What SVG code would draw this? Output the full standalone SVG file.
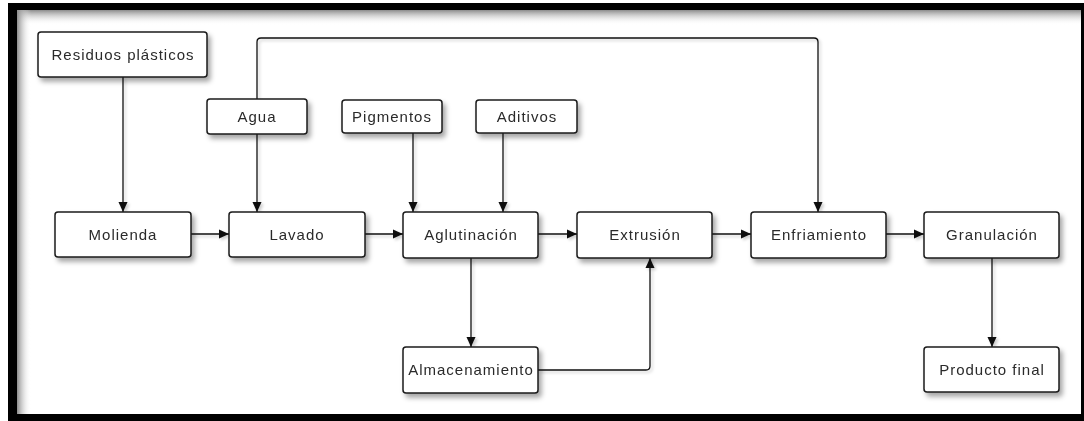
<svg xmlns="http://www.w3.org/2000/svg" width="1084" height="421" viewBox="0 0 1084 421">
  <defs>
    <style>
      .box { fill: #ffffff; stroke: #1a1a1a; stroke-width: 1.5; }
      .lbl { font-family: "Liberation Sans", Arial, sans-serif; font-size: 15px; letter-spacing: 1px; fill: #2a2a2a; text-anchor: middle; }
      .wire { fill: none; stroke: #111111; stroke-width: 1.3; }
    </style>
    <filter id="shadow" x="-20%" y="-30%" width="140%" height="170%">
      <feDropShadow dx="3" dy="4" stdDeviation="2.5" flood-color="#000000" flood-opacity="0.35"/>
    </filter>
    <filter id="wireShadow" x="-5%" y="-5%" width="110%" height="110%">
      <feDropShadow dx="2" dy="2" stdDeviation="1.5" flood-color="#000000" flood-opacity="0.2"/>
    </filter>
    <marker id="arrow" viewBox="0 0 10 10" refX="10" refY="5" markerWidth="10" markerHeight="10" markerUnits="userSpaceOnUse" orient="auto">
      <path d="M0,0.5 L10,5 L0,9.5 Z" fill="#111111"/>
    </marker>
    <linearGradient id="topShade" x1="0" y1="0" x2="0" y2="1">
      <stop offset="0" stop-color="#8c8c8c"/>
      <stop offset="1" stop-color="#ffffff" stop-opacity="0"/>
    </linearGradient>
    <linearGradient id="leftShade" x1="0" y1="0" x2="1" y2="0">
      <stop offset="0" stop-color="#8c8c8c"/>
      <stop offset="1" stop-color="#ffffff" stop-opacity="0"/>
    </linearGradient>
  </defs>

  <!-- page background and heavy black frame -->
  <rect x="0" y="0" width="1084" height="421" fill="#ffffff"/>
  <path d="M8,3 H1084 V421 H8 Z M17,10 V414 H1081 V10 Z" fill="#000000" fill-rule="evenodd"/>
  <rect x="17" y="10" width="1064" height="15" fill="url(#topShade)"/>
  <rect x="17" y="10" width="14" height="404" fill="url(#leftShade)"/>

  <!-- connectors -->
  <g id="connectors" filter="url(#wireShadow)">
    <path class="wire" d="M123,77 V212" marker-end="url(#arrow)"/>
    <path class="wire" d="M257,134 V212" marker-end="url(#arrow)"/>
    <path class="wire" d="M257,99 V42 Q257,38 261,38 H814 Q818,38 818,42 V212" marker-end="url(#arrow)"/>
    <path class="wire" d="M413,133 V212" marker-end="url(#arrow)"/>
    <path class="wire" d="M503,133 V212" marker-end="url(#arrow)"/>
    <path class="wire" d="M191,234 H229" marker-end="url(#arrow)"/>
    <path class="wire" d="M365,234 H403" marker-end="url(#arrow)"/>
    <path class="wire" d="M538,234 H577" marker-end="url(#arrow)"/>
    <path class="wire" d="M712,234 H751" marker-end="url(#arrow)"/>
    <path class="wire" d="M886,234 H924" marker-end="url(#arrow)"/>
    <path class="wire" d="M471,258 V347" marker-end="url(#arrow)"/>
    <path class="wire" d="M538,370 H646 Q650,370 650,366 V258" marker-end="url(#arrow)"/>
    <path class="wire" d="M992,258 V347" marker-end="url(#arrow)"/>
  </g>

  <!-- nodes -->
  <g id="residuos" filter="url(#shadow)">
    <rect class="box" x="38" y="32" width="169" height="45" rx="3"/>
    <text class="lbl" x="123" y="60">Residuos plásticos</text>
  </g>
  <g id="agua" filter="url(#shadow)">
    <rect class="box" x="207" y="99" width="100" height="35" rx="3"/>
    <text class="lbl" x="257" y="122">Agua</text>
  </g>
  <g id="pigmentos" filter="url(#shadow)">
    <rect class="box" x="342" y="100" width="100" height="33" rx="3"/>
    <text class="lbl" x="392" y="122">Pigmentos</text>
  </g>
  <g id="aditivos" filter="url(#shadow)">
    <rect class="box" x="476" y="100" width="101" height="33" rx="3"/>
    <text class="lbl" x="527" y="122">Aditivos</text>
  </g>
  <g id="molienda" filter="url(#shadow)">
    <rect class="box" x="55" y="212" width="136" height="45" rx="3"/>
    <text class="lbl" x="123" y="240">Molienda</text>
  </g>
  <g id="lavado" filter="url(#shadow)">
    <rect class="box" x="229" y="212" width="136" height="45" rx="3"/>
    <text class="lbl" x="297" y="240">Lavado</text>
  </g>
  <g id="aglutinacion" filter="url(#shadow)">
    <rect class="box" x="403" y="212" width="135" height="46" rx="3"/>
    <text class="lbl" x="471" y="240">Aglutinación</text>
  </g>
  <g id="extrusion" filter="url(#shadow)">
    <rect class="box" x="577" y="212" width="135" height="46" rx="3"/>
    <text class="lbl" x="645" y="240">Extrusión</text>
  </g>
  <g id="enfriamiento" filter="url(#shadow)">
    <rect class="box" x="751" y="212" width="135" height="46" rx="3"/>
    <text class="lbl" x="819" y="240">Enfriamiento</text>
  </g>
  <g id="granulacion" filter="url(#shadow)">
    <rect class="box" x="924" y="212" width="135" height="46" rx="3"/>
    <text class="lbl" x="992" y="240">Granulación</text>
  </g>
  <g id="almacenamiento" filter="url(#shadow)">
    <rect class="box" x="403" y="347" width="135" height="46" rx="3"/>
    <text class="lbl" x="471" y="375">Almacenamiento</text>
  </g>
  <g id="producto" filter="url(#shadow)">
    <rect class="box" x="924" y="347" width="135" height="45" rx="3"/>
    <text class="lbl" x="992" y="375">Producto final</text>
  </g>
</svg>
